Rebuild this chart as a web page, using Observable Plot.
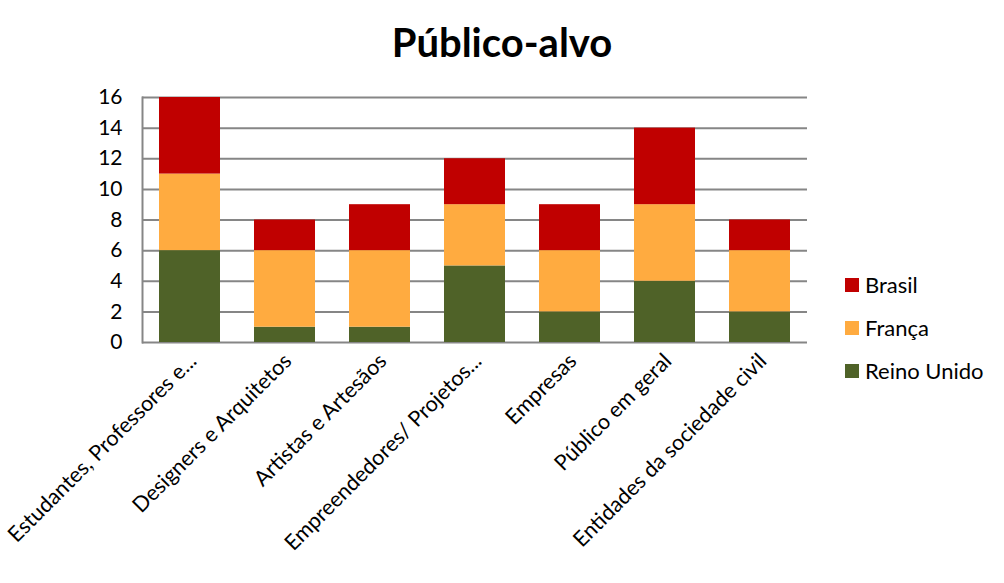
<!DOCTYPE html>
<html><head><meta charset="utf-8">
<script src="https://cdn.jsdelivr.net/npm/d3@7"></script>
<script src="https://cdn.jsdelivr.net/npm/@observablehq/plot@0.6"></script>
<style>
body{margin:0;background:#fff;font-family:Lato,"Open Sans",sans-serif;}
#wrap{position:relative;width:1004px;height:583px;overflow:hidden;}
#title{height:80px;width:1004px;text-align:center;font-weight:bold;font-size:40px;line-height:84px;color:#000;}
#legend{position:absolute;left:845px;top:263px;font-size:22px;color:#000;}
.row{display:flex;align-items:center;height:43px;}
.sw{width:14px;height:14px;margin-right:6px;}
</style></head><body>
<div id="wrap"><div id="title">Público-alvo</div><div id="chart"></div><div id="legend"></div></div>
<script>
const categories = ["Estudantes, Professores e...","Designers e Arquitetos","Artistas e Artesãos","Empreendedores/ Projetos...","Empresas","Público em geral","Entidades da sociedade civil"];
const reinoUnido = [6,1,1,5,2,4,2];
const franca = [5,5,5,4,4,5,4];
const brasil = [5,2,3,3,3,5,2];
const seriesNames = ["Reino Unido","França","Brasil"];
const seriesColors = ["#4F6228","#FFAB40","#C00000"];
const yTicks = [0,2,4,6,8,10,12,14,16];

const seriesValues = [reinoUnido, franca, brasil];
const data = [];
seriesNames.forEach((s,i)=>categories.forEach((c,j)=>data.push({cat:c, series:s, value:seriesValues[i][j]})));

const chart = Plot.plot({
  width:1004, height:503,
  marginLeft:142, marginRight:197, marginTop:17, marginBottom:241,
  x:{domain:categories, paddingInner:0.36, paddingOuter:0.18, label:null},
  y:{domain:[0,16], label:null},
  color:{domain:seriesNames, range:seriesColors},
  style:{fontFamily:"Lato, 'Open Sans', sans-serif", color:"#000", background:"#fff"},
  marks:[
    Plot.ruleY(yTicks,{stroke:"#868686", strokeWidth:2}),
    Plot.frame({anchor:"left", stroke:"#868686", strokeWidth:2}),
    Plot.barY(data,{x:"cat", y:"value", fill:"series", order:seriesNames}),
    Plot.axisY({ticks:yTicks, tickSize:0, tickPadding:20, fontSize:21, label:null}),
    Plot.axisX({tickSize:0, tickPadding:15, tickRotate:-45, fontSize:21.5, dx:3, label:null})
  ]
});
document.getElementById("chart").appendChild(chart);

const legend = document.getElementById("legend");
[2,1,0].forEach(i=>{
  const row = document.createElement("div"); row.className="row";
  const sw = document.createElement("div"); sw.className="sw"; sw.style.background=seriesColors[i];
  const t = document.createElement("span"); t.textContent=seriesNames[i];
  row.appendChild(sw); row.appendChild(t); legend.appendChild(row);
});
</script>
</body></html>
